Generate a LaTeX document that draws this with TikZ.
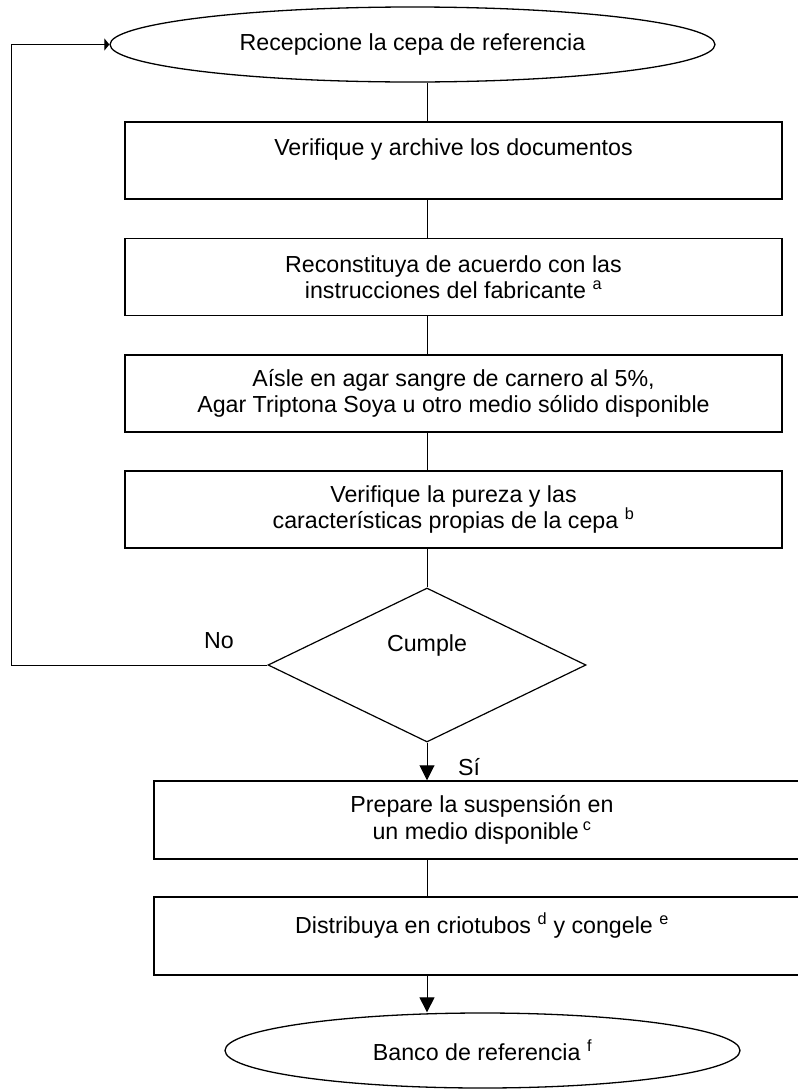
\documentclass[tikz,border=0pt]{standalone}
\usepackage{fontspec}
\setmainfont{Liberation Sans}
\usetikzlibrary{shapes.geometric,arrows.meta}
\begin{document}
\begin{tikzpicture}[x=1pt,y=-1pt,
  txt/.style={font=\fontsize{23.2}{26.5}\selectfont},
  stepbox/.style={txt,draw,line width=1.5pt,rectangle,minimum height=77pt,align=center,inner sep=0pt},
  oval/.style={txt,draw,line width=1.3pt,ellipse,minimum height=75pt,inner sep=0pt},
  decision/.style={draw,line width=1.2pt,diamond,minimum width=318pt,minimum height=154pt,inner sep=0pt},
  conn/.style={draw,line width=1pt},
  tip/.style={-{Triangle[length=15pt,width=15pt]}}
]
\useasboundingbox (0,0) rectangle (798,1090);
\clip (0,0) rectangle (798,1090);

\node[oval,minimum width=605pt] (top) at (412.5,44.5) {Recepcione la cepa de referencia};
\node[stepbox,minimum width=657pt] (b1) at (453.5,160.5) {Verifique y archive los documentos\\\mbox{}};
\node[stepbox,minimum width=657pt] (b2) at (453.5,277) {Reconstituya de acuerdo con las\\ instrucciones del fabricante \textsuperscript{a}};
\node[stepbox,minimum width=657pt] (b3) at (453.5,393.5) {Aísle en agar sangre de carnero al 5\%,\\Agar Triptona Soya u otro medio sólido disponible};
\node[stepbox,minimum width=657pt] (b4) at (453.5,509.5) {Verifique la pureza y las\\ características propias de la cepa \textsuperscript{b}};
\node[decision] (dec) at (427,665) {};
\node[txt] (cumple) at (427,645) {Cumple};
\node[txt] (no) at (219,641) {No};
\node[txt] (si) at (469,767) {Sí};
\node[stepbox,minimum width=656pt,minimum height=78pt] (b5) at (482,820) {Prepare la suspensión en\\ un medio disponible\,\textsuperscript{c}};
\node[stepbox,minimum width=656pt,minimum height=78pt] (b6) at (482,936) {Distribuya en criotubos \textsuperscript{d} y congele \textsuperscript{e}\\\mbox{}};
\node[oval,minimum width=515pt] (bank) at (482.5,1050.5) {Banco de referencia \textsuperscript{f}};

\draw[conn] (top.south -| dec.north) -- (b1.north -| dec.north);
\draw[conn] (b1.south -| dec.north) -- (b2.north -| dec.north);
\draw[conn] (b2.south -| dec.north) -- (b3.north -| dec.north);
\draw[conn] (b3.south -| dec.north) -- (b4.north -| dec.north);
\draw[conn] (b4.south -| dec.north) -- (dec.north);
\draw[conn,tip] (dec.south) -- (b5.north -| dec.south);
\draw[conn] (b5.south -| dec.south) -- (b6.north -| dec.south);
\draw[conn,tip] (b6.south -| dec.south) -- (bank.north -| dec.south);
\draw[conn,-{Triangle[length=5pt,width=12pt]}] (dec.west) -- ++(-256,0) |- (top.west);
\end{tikzpicture}
\end{document}
